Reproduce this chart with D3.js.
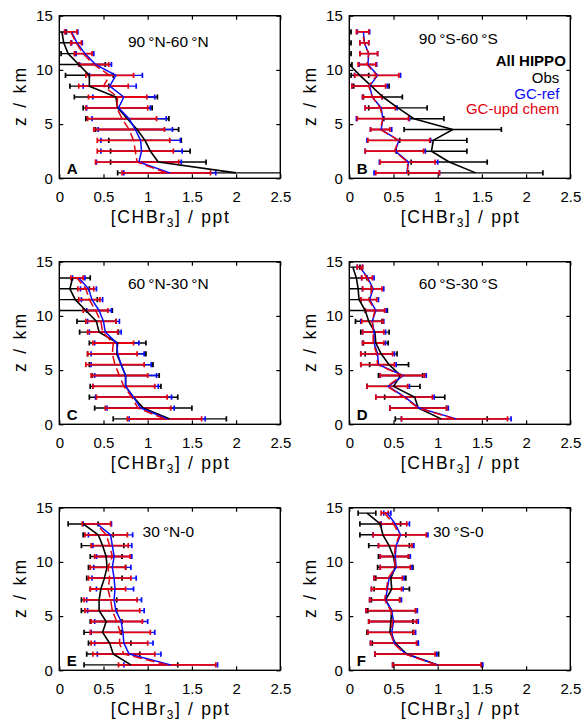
<!DOCTYPE html>
<html>
<head>
<meta charset="utf-8">
<script src="https://cdn.jsdelivr.net/npm/d3@7"></script>
<style>
  body { margin: 0; background: #fff; }
  svg { display: block; }
  text { font-family: "Liberation Sans", Arial, Helvetica, sans-serif; }
</style>
</head>
<body>
<svg id="fig" width="582" height="722"></svg>
<script>
// Altitude bin centres (km)
const levels14 = [0.5, 1.5, 2.5, 3.5, 4.5, 5.5, 6.5, 7.5, 8.5, 9.5, 10.5, 11.5, 12.5, 13.5];
const levels15 = [0.5, 1.5, 2.5, 3.5, 4.5, 5.5, 6.5, 7.5, 8.5, 9.5, 10.5, 11.5, 12.5, 13.5, 14.5];

const xTicks = [0, 0.5, 1, 1.5, 2, 2.5];
const yTicks = [0, 5, 10, 15];

const panelLetters = ["A", "B", "C", "D", "E", "F"];
const panelTitles = ["90\u2009°N-60\u2009°N", "90\u2009°S-60\u2009°S", "60\u2009°N-30\u2009°N",
                     "60\u2009°S-30\u2009°S", "30\u2009°N-0", "30\u2009°S-0"];
const legendLabels = ["All HIPPO", "Obs", "GC-ref", "GC-upd chem"];

// CHBr3 (ppt): mean and 1-sigma per altitude bin
// A: 90N-60N
const obsA   = [2.00, 1.12, 1.03, 0.97, 0.88, 0.77, 0.66, 0.64, 0.34, 0.34, 0.22, 0.10, 0.05, 0.03];
const obsSdA = [1.34, 0.54, 0.45, 0.41, 0.47, 0.47, 0.39, 0.47, 0.22, 0.27, 0.30, 0.08, 0.08, 0.05];
const refA   = [1.25, 0.90, 0.93, 0.92, 0.86, 0.79, 0.67, 0.73, 0.57, 0.64, 0.41, 0.29, 0.20, 0.14];
const refSdA = [0.52, 0.48, 0.46, 0.45, 0.42, 0.42, 0.36, 0.35, 0.30, 0.30, 0.18, 0.10, 0.06, 0.07];
const updA   = [1.21, 0.88, 0.86, 0.84, 0.79, 0.71, 0.65, 0.66, 0.50, 0.57, 0.39, 0.27, 0.19, 0.13];
const updSdA = [0.50, 0.47, 0.43, 0.41, 0.40, 0.39, 0.35, 0.33, 0.28, 0.27, 0.17, 0.10, 0.06, 0.07];

// B: 90S-60S
const obsB   = [1.43, 1.13, 0.93, 0.95, 1.17, 0.73, 0.55, 0.38, 0.25, 0.12, 0.00, 0.00, 0.00, 0.00];
const obsSdB = [0.76, 0.43, 0.40, 0.38, 0.55, 0.34, 0.33, 0.22, 0.20, 0.10, 0.03, 0.02, 0.02, 0.02];
const refB   = [0.65, 0.67, 0.52, 0.56, 0.36, 0.38, 0.36, 0.26, 0.23, 0.32, 0.21, 0.22, 0.17, 0.16];
const refSdB = [0.37, 0.33, 0.34, 0.36, 0.12, 0.30, 0.18, 0.11, 0.20, 0.26, 0.10, 0.10, 0.05, 0.07];
const updB   = [0.66, 0.66, 0.51, 0.56, 0.35, 0.38, 0.35, 0.26, 0.22, 0.31, 0.20, 0.22, 0.17, 0.15];
const updSdB = [0.36, 0.31, 0.33, 0.35, 0.11, 0.29, 0.17, 0.11, 0.19, 0.25, 0.10, 0.10, 0.05, 0.07];

// C: 60N-30N
const obsC   = [1.25, 0.95, 0.84, 0.75, 0.75, 0.70, 0.65, 0.66, 0.45, 0.42, 0.30, 0.18, 0.12, 0.15];
const obsSdC = [0.64, 0.55, 0.50, 0.40, 0.38, 0.36, 0.33, 0.32, 0.22, 0.22, 0.30, 0.25, 0.22, 0.20];
const refC   = [1.22, 0.92, 0.84, 0.75, 0.75, 0.70, 0.66, 0.65, 0.52, 0.50, 0.45, 0.37, 0.33, 0.22];
const refSdC = [0.43, 0.38, 0.43, 0.37, 0.35, 0.34, 0.30, 0.25, 0.18, 0.18, 0.14, 0.12, 0.09, 0.07];
const updC   = [1.19, 0.89, 0.82, 0.73, 0.68, 0.63, 0.60, 0.61, 0.49, 0.47, 0.41, 0.34, 0.30, 0.20];
const updSdC = [0.42, 0.37, 0.40, 0.35, 0.32, 0.33, 0.28, 0.23, 0.17, 0.17, 0.14, 0.12, 0.09, 0.07];

// D: 60S-30S
const obsD   = [1.04, 0.78, 0.74, 0.50, 0.58, 0.45, 0.36, 0.30, 0.29, 0.22, 0.18, 0.11, 0.10, 0.08, 0.04];
const obsSdD = [0.52, 0.32, 0.34, 0.30, 0.25, 0.22, 0.18, 0.14, 0.16, 0.15, 0.25, 0.12, 0.15, 0.12, 0.08];
const refD   = [1.21, 0.79, 0.63, 0.44, 0.61, 0.33, 0.32, 0.28, 0.28, 0.26, 0.30, 0.23, 0.27, 0.21, 0.12];
const refSdD = [0.62, 0.33, 0.33, 0.24, 0.26, 0.20, 0.19, 0.13, 0.13, 0.13, 0.12, 0.10, 0.12, 0.07, 0.03];
const updD   = [1.19, 0.78, 0.62, 0.43, 0.60, 0.32, 0.31, 0.27, 0.27, 0.26, 0.29, 0.22, 0.26, 0.20, 0.12];
const updSdD = [0.60, 0.32, 0.32, 0.23, 0.25, 0.19, 0.18, 0.12, 0.12, 0.12, 0.11, 0.09, 0.11, 0.06, 0.03];

// E: 30N-0
const obsE   = [0.81, 0.61, 0.57, 0.49, 0.53, 0.45, 0.45, 0.47, 0.51, 0.54, 0.53, 0.49, 0.44, 0.27];
const obsSdE = [0.53, 0.30, 0.24, 0.21, 0.18, 0.20, 0.20, 0.12, 0.20, 0.21, 0.18, 0.24, 0.17, 0.17];
const refE   = [1.26, 0.79, 0.73, 0.72, 0.70, 0.64, 0.62, 0.63, 0.62, 0.60, 0.62, 0.60, 0.58, 0.43];
const refSdE = [0.53, 0.36, 0.33, 0.36, 0.30, 0.32, 0.31, 0.21, 0.25, 0.21, 0.20, 0.22, 0.25, 0.16];
const updE   = [1.22, 0.73, 0.68, 0.69, 0.65, 0.60, 0.58, 0.55, 0.57, 0.55, 0.60, 0.57, 0.53, 0.42];
const updSdE = [0.55, 0.35, 0.32, 0.34, 0.29, 0.31, 0.30, 0.20, 0.24, 0.20, 0.20, 0.21, 0.24, 0.16];

// F: 30S-0
const obsF   = [1.00, 0.65, 0.52, 0.46, 0.47, 0.48, 0.41, 0.48, 0.47, 0.52, 0.50, 0.45, 0.38, 0.35, 0.20];
const obsSdF = [0.50, 0.36, 0.26, 0.26, 0.25, 0.27, 0.16, 0.20, 0.17, 0.20, 0.17, 0.23, 0.26, 0.23, 0.10];
const refF   = [1.00, 0.64, 0.51, 0.48, 0.50, 0.48, 0.41, 0.43, 0.45, 0.53, 0.52, 0.53, 0.58, 0.52, 0.43];
const refSdF = [0.51, 0.35, 0.27, 0.27, 0.28, 0.29, 0.18, 0.18, 0.17, 0.18, 0.17, 0.20, 0.31, 0.16, 0.04];
const updF   = [0.99, 0.63, 0.50, 0.47, 0.49, 0.47, 0.40, 0.42, 0.44, 0.52, 0.51, 0.52, 0.57, 0.50, 0.40];
const updSdF = [0.50, 0.34, 0.26, 0.26, 0.27, 0.28, 0.17, 0.17, 0.16, 0.17, 0.16, 0.19, 0.30, 0.15, 0.04];

const panels = [
  { levels: levels14, obs: obsA, obsSd: obsSdA, ref: refA, refSd: refSdA, upd: updA, updSd: updSdA },
  { levels: levels14, obs: obsB, obsSd: obsSdB, ref: refB, refSd: refSdB, upd: updB, updSd: updSdB },
  { levels: levels14, obs: obsC, obsSd: obsSdC, ref: refC, refSd: refSdC, upd: updC, updSd: updSdC },
  { levels: levels15, obs: obsD, obsSd: obsSdD, ref: refD, refSd: refSdD, upd: updD, updSd: updSdD },
  { levels: levels14, obs: obsE, obsSd: obsSdE, ref: refE, refSd: refSdE, upd: updE, updSd: updSdE },
  { levels: levels15, obs: obsF, obsSd: obsSdF, ref: refF, refSd: refSdF, upd: updF, updSd: updSdF }
];

// ---- layout ----
const colX = [59.3, 349.3];
const rowY = [15.7, 261.7, 507.7];
const W = 221, H = 162.6;
const titleBase = [31, 28, 27, 27, 29, 29];

const C_OBS = "#000000", C_REF = "#0a0aff", C_UPD = "#e3000f";

const svg = d3.select("#fig");

panels.forEach((p, i) => {
  const col = i % 2, row = Math.floor(i / 2);
  const g = svg.append("g").attr("transform", `translate(${colX[col]},${rowY[row]})`);

  const x = d3.scaleLinear().domain([0, 2.5]).range([0, W]);
  const y = d3.scaleLinear().domain([0, 15]).range([H, 0]);

  g.append("clipPath").attr("id", "clip" + i)
    .append("rect").attr("x", 0).attr("y", 0).attr("width", W).attr("height", H);

  const plot = g.append("g").attr("clip-path", `url(#clip${i})`);

  const series = [
    { m: p.obs, s: p.obsSd, color: C_OBS, dash: null, lw: 1.6, bw: 1.4 },
    { m: p.ref, s: p.refSd, color: C_REF, dash: null, lw: 1.5, bw: 1.3 },
    { m: p.upd, s: p.updSd, color: C_UPD, dash: "9,4", lw: 1.5, bw: 1.8 }
  ];

  // error bars (mean ± 1σ) with end caps
  series.forEach(se => {
    const rows = p.levels.map((z, k) => ({ z, m: se.m[k], s: se.s[k] }));
    const eb = plot.append("g").attr("stroke", se.color).attr("fill", "none");
    eb.selectAll("line.bar").data(rows).join("line").attr("class", "bar")
      .attr("x1", d => x(d.m - d.s)).attr("x2", d => x(d.m + d.s))
      .attr("y1", d => y(d.z)).attr("y2", d => y(d.z))
      .attr("stroke-width", se.bw);
    eb.selectAll("line.capl").data(rows).join("line").attr("class", "capl")
      .attr("x1", d => x(d.m - d.s)).attr("x2", d => x(d.m - d.s))
      .attr("y1", d => y(d.z) - 2.6).attr("y2", d => y(d.z) + 2.6).attr("stroke-width", 1.7);
    eb.selectAll("line.capr").data(rows).join("line").attr("class", "capr")
      .attr("x1", d => x(d.m + d.s)).attr("x2", d => x(d.m + d.s))
      .attr("y1", d => y(d.z) - 2.6).attr("y2", d => y(d.z) + 2.6).attr("stroke-width", 1.7);
  });

  // vertical profiles
  series.forEach(se => {
    const pts = p.levels.map((z, k) => ({ z, v: se.m[k] }));
    plot.append("path").datum(pts)
      .attr("fill", "none").attr("stroke", se.color).attr("stroke-width", se.lw)
      .attr("stroke-linejoin", "round")
      .attr("stroke-dasharray", se.dash)
      .attr("d", d3.line().x(d => x(d.v)).y(d => y(d.z)));
  });

  // axes (inward ticks on all four sides)
  const fmt = d => String(d);
  const ax = g.append("g");
  ax.append("g").attr("transform", `translate(0,${H})`)
    .call(d3.axisBottom(x).tickValues(xTicks).tickSize(-4).tickPadding(13).tickFormat(fmt));
  ax.append("g")
    .call(d3.axisTop(x).tickValues(xTicks).tickSize(-4).tickFormat(""));
  ax.append("g")
    .call(d3.axisLeft(y).tickValues(yTicks).tickSize(-4).tickPadding(6.5).tickFormat(fmt));
  ax.append("g").attr("transform", `translate(${W},0)`)
    .call(d3.axisRight(y).tickValues(yTicks).tickSize(-4).tickFormat(""));
  ax.selectAll(".domain").remove();
  ax.selectAll(".tick line").attr("stroke", "#000").attr("stroke-width", 1.2);
  ax.selectAll("g").attr("font-size", 15).attr("font-family", '"Liberation Sans", Arial, sans-serif');
  ax.selectAll(".tick text").attr("fill", "#000");

  g.append("rect").attr("x", 0).attr("y", 0).attr("width", W).attr("height", H)
    .attr("fill", "none").attr("stroke", "#000").attr("stroke-width", 1.4);

  // region title and panel letter
  g.append("text").attr("x", 109).attr("y", titleBase[i])
    .attr("text-anchor", "middle").attr("font-size", 15.5).text(panelTitles[i]);
  g.append("text").attr("x", 7.5).attr("y", H - 4.5)
    .attr("font-size", 15).attr("font-weight", "bold").text(panelLetters[i]);

  // axis titles
  const xl = g.append("text").attr("x", W / 2).attr("y", H + 45)
    .attr("text-anchor", "middle").attr("font-size", 17.5)
    .attr("textLength", 118).attr("lengthAdjust", "spacing");
  xl.append("tspan").text("[CHBr");
  xl.append("tspan").attr("font-size", 12).attr("dy", 4).text("3");
  xl.append("tspan").attr("dy", -4).text("] / ppt");

  g.append("text")
    .attr("transform", `translate(-33.8,${H / 2}) rotate(-90)`)
    .attr("text-anchor", "middle").attr("font-size", 17.5)
    .attr("textLength", 58).attr("lengthAdjust", "spacing")
    .text("z / km");

  // legend in panel B
  if (i === 1) {
    const lg = g.append("g").attr("font-size", 15).attr("text-anchor", "end");
    const lx = [216.5, 210, 210, 210];
    const ly = [50.7, 67.3, 83, 98.7];
    const lc = [C_OBS, C_OBS, C_REF, C_UPD];
    legendLabels.forEach((t, k) => {
      lg.append("text").attr("x", lx[k]).attr("y", ly[k]).attr("fill", lc[k])
        .attr("font-weight", k === 0 ? "bold" : null).text(t);
    });
  }
});
</script>
</body>
</html>
